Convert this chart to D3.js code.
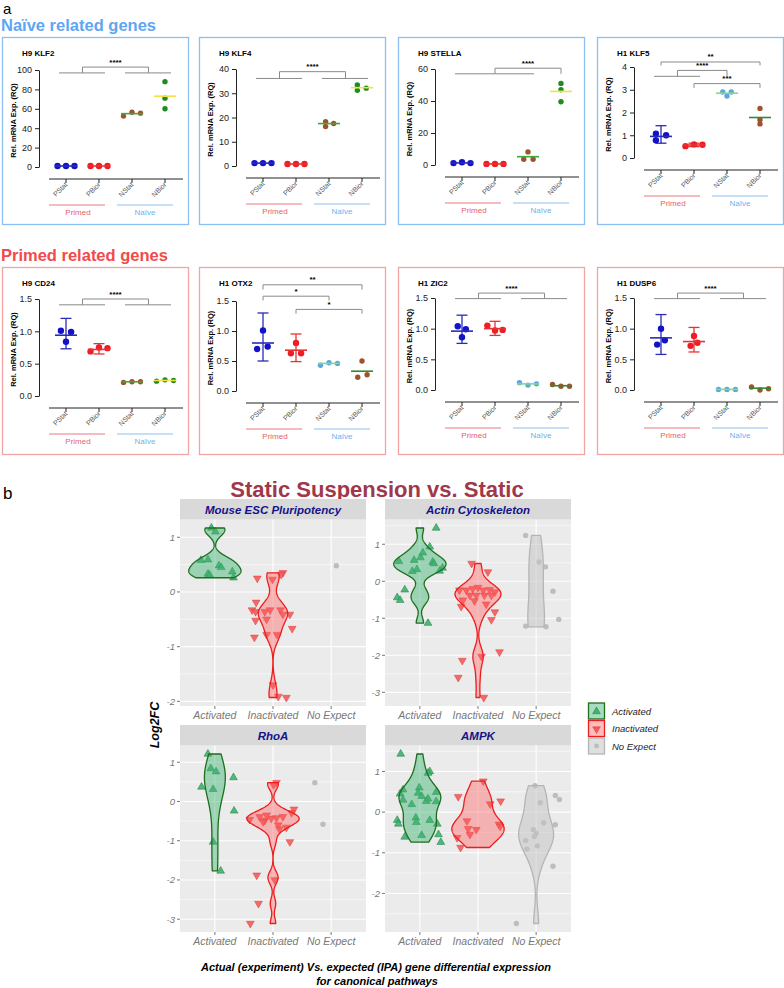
<!DOCTYPE html>
<html><head><meta charset="utf-8">
<script src="https://cdn.jsdelivr.net/npm/d3@7"></script>
<style>body{margin:0;background:#fff}svg{display:block;font-family:Arial,"Liberation Sans",sans-serif}</style>
</head><body><svg id="c" width="784" height="988"></svg>
<script>
// ================= Panel a data =================
const groups = ["PStat","PBior","NStat","NBior"];
const genes = ["H9 KLF2","H9 KLF4","H9 STELLA","H1 KLF5","H9 CD24","H1 OTX2","H1 ZIC2","H1 DUSP6"];
const yMax = [100,40,60,4,1.5,1.5,1.5,1.5];
const yStep = [20,10,20,1,0.5,0.5,0.5,0.5];
const tickFmt = ["d","d","d","d",".1f",".1f",".1f",".1f"];
// replicate values (RQ) per gene, per group
const reps = [
  [[1,1,1],[1,1,1],[52.5,56.5,55.5],[88,71,60]],
  [[1.2,1.2,1.2],[0.8,0.8,0.8],[18.3,16.3,17.5],[33.4,31.2,32.1]],
  [[1.2,1.7,1.2],[0.7,0.7,0.7],[8.2,3.6,3.6],[51,47,39.5]],
  [[1.07,0.78,1.0],[0.52,0.6,0.58],[2.9,2.9,2.72],[2.18,1.68,1.5]],
  [[1.01,0.99,0.84],[0.69,0.75,0.74],[0.21,0.22,0.22],[0.23,0.25,0.24]],
  [[1.01,0.7,0.74],[0.8,0.63,0.63],[0.43,0.47,0.46],[0.5,0.23,0.27]],
  [[1.04,0.99,0.86],[1.05,0.97,0.98],[0.12,0.08,0.1],[0.09,0.06,0.06]],
  [[1.0,0.74,0.81],[0.88,0.72,0.77],[0.01,0.01,0.01],[0.05,0.0,0.02]]
];
// horizontal scatter of replicate dots (in dot widths)
const spread = [
  [[-1,0,1],[-1,0,1],[-1,0,1],[0,0,0]],
  [[-1,0,1],[-1,0,1],[-0.4,-0.4,0.55],[-0.55,-0.55,0.5]],
  [[-1,0,1],[-1,0,1],[0,-0.5,0.6],[0,0,0]],
  [[-0.6,-0.6,0.6],[-1,0,1],[-0.5,0.5,0],[0,0,0]],
  [[-0.6,0.6,0],[-1,0,1],[-1,0,1],[-1,0,1]],
  [[0,-0.7,0.55],[0,-0.6,0.6],[-1,0,1],[0,-0.5,0.6]],
  [[-0.5,0.45,0],[-0.9,0,0.9],[-1,0,1],[-1,0,1]],
  [[0,-0.45,0.45],[0,-0.4,0.4],[-1,0,1],[-1,0,1]]
];
const means = [[1,1,55,73],[1.2,0.8,17.5,32.3],[1.3,0.7,5.2,46],[0.95,0.57,2.85,1.78],
  [0.94,0.72,0.22,0.24],[0.8,0.68,0.46,0.33],[0.96,1.0,0.1,0.07],[0.85,0.79,0.01,0.03]];
// error bars for primed groups [PStat, PBior]
const errLo = [[1,1],[1.2,0.8],[1.3,0.7],[0.65,0.5],[0.73,0.65],[0.5,0.49],[0.76,0.89],[0.58,0.62]];
const errHi = [[1,1],[1.2,0.8],[1.3,0.7],[1.42,0.65],[1.2,0.81],[1.3,0.95],[1.22,1.12],[1.23,1.02]];
// significance brackets: gene, left groups, right groups, arm level, top level, label
const sig = [
  [0,[0,1],[2,3],97,103,"****"],
  [1,[0,1],[2,3],36.1,38.9,"****"],
  [2,[0,1,2],[3],57,60.5,"****"],
  [3,[0],[3],4.07,4.22,"**"],
  [3,[0,1],[2],3.59,3.85,"****"],
  [3,[1],[3],3.08,3.27,"***"],
  [4,[0,1],[2,3],1.41,1.5,"****"],
  [5,[0],[3],1.69,1.77,"**"],
  [5,[0],[2],1.51,1.58,"*"],
  [5,[1],[3],1.29,1.36,"*"],
  [6,[0,1],[2,3],1.49,1.58,"****"],
  [7,[0,1],[2,3],1.49,1.58,"****"]
];

// ================= Panel b data =================
const pathways = ["Mouse ESC Pluripotency","Actin Cytoskeleton","RhoA","AMPK"];
const expectCats = ["Activated","Inactivated","No Expect"];
const log2fc = [
  [ [1.17,1.10,0.58,0.59,0.48,0.45,0.33,0.31,0.37,0.26],
    [0.25,0.23,0.35,0.32,-0.19,-0.33,-0.36,-0.36,-0.33,-0.33,-0.41,-0.41,-0.52,-0.50,-0.67,-0.83,-0.78,-0.78,-1.70,-1.91,-1.93],
    [0.48] ],
  [ [1.44,0.93,0.77,0.64,0.57,0.54,0.52,0.48,0.32,0.27,0.36,0.28,-0.23,-0.44,-0.51,-1.13],
    [0.48,0.25,-0.24,-0.24,-0.20,-0.17,-0.24,-0.23,-0.29,-0.38,-0.38,-0.38,-0.38,-0.51,-0.53,-0.62,-0.68,-0.83,-1.04,-1.91,-2.03,-2.14,-2.60,-3.14],
    [1.24,0.52,0.39,-0.27,-1.03,-1.21,-1.23] ],
  [ [1.21,0.84,0.76,0.61,0.37,0.31,-0.24,-1.03,-1.77],
    [0.48,0.42,-0.20,-0.29,-0.46,-0.39,-0.48,-0.43,-0.42,-0.39,-0.35,-0.52,-0.60,-0.70,-0.66,-1.03,-1.88,-2.00,-2.60,-3.11],
    [0.48,-0.58] ],
  [ [1.43,1.0,0.96,0.60,0.55,0.45,0.47,0.49,0.39,0.33,0.30,0.27,0.26,0.19,-0.20,-0.29,-0.14,-0.25,-0.20,-0.29,-0.61,-0.57,-0.55,-0.74],
    [0.76,0.38,0.27,0.20,-0.22,-0.30,-0.35,-0.41,-0.43,-0.55,-0.63,-0.87],
    [0.65,0.41,0.31,0.23,-0.26,-0.31,-0.43,-0.52,-0.60,-0.70,-0.83,-0.91,-1.33,-2.74] ]
];
// horizontal jitter of each gene (category units)
const jitter = [
  [ [-0.06,0.01,-0.24,-0.12,0.07,0.11,-0.12,-0.09,0.30,0.32],
    [-0.27,-0.01,0.17,0.14,-0.29,-0.36,-0.30,-0.14,-0.05,0.13,0.17,0.29,-0.30,-0.11,0.33,-0.32,-0.11,0.07,0.0,0.09,0.23],
    [0.09] ],
  [ [0.28,0.17,0.05,0.01,-0.10,-0.36,0.22,0.24,-0.05,-0.13,0.39,0.34,-0.26,-0.39,-0.34,0.14],
    [-0.11,0.17,-0.32,-0.20,-0.09,0.0,0.09,0.20,0.29,-0.14,-0.03,0.11,0.23,-0.26,-0.06,0.14,-0.29,0.29,0.23,0.37,0.06,-0.27,-0.34,0.10],
    [-0.18,0.05,0.16,0.29,0.39,-0.18,0.17] ],
  [ [-0.12,-0.07,0.02,0.32,-0.23,-0.03,0.33,-0.03,0.10],
    [0.06,0.01,0.36,0.32,-0.40,-0.23,-0.14,-0.03,0.06,0.17,-0.11,-0.17,0.09,0.11,0.23,0.29,-0.28,0.03,-0.25,-0.39],
    [-0.28,-0.14] ],
  [ [-0.33,0.17,0.14,-0.01,-0.29,-0.34,-0.03,0.28,0.03,0.14,-0.29,0.11,0.28,-0.14,-0.39,-0.37,-0.07,-0.06,0.17,0.30,-0.26,0.03,0.32,0.36],
    [0.09,-0.34,0.39,0.21,-0.19,0.36,0.38,-0.17,-0.03,-0.14,-0.36,-0.30],
    [-0.02,0.33,0.40,0.07,0.13,0.33,-0.05,0.0,-0.03,-0.18,0.02,-0.16,0.29,-0.34] ]
];

// ================= drawing =================
const svg = d3.select("#c");
const txt = (p, x, y, s, o) => { const t = p.append("text").attr("x", x).attr("y", y).text(s); Object.entries(o||{}).forEach(([k,v])=>t.attr(k,v)); return t; };

txt(svg, 3, 14, "a", {"font-size":15});
txt(svg, 1, 31, "Naïve related genes", {"font-size":16.5,"font-weight":"bold",fill:"#5ea6f2"});
txt(svg, 1, 261, "Primed related genes", {"font-size":16.5,"font-weight":"bold",fill:"#f24a4a"});

const boxX=[2,199,398,597], boxY=[37,267], BW=186, BH=187;
const plotTop=[33,32,32,30,32,34,31,31], plotBot=[130,129,128,121,129,124,123,123];
const dotCol = {H9:["#1212c8","#ee1c24","#a0522d","#1e8c1e"], H1:["#1212c8","#ee1c24","#5aa5e2","#a0522d"]};
const meanCol = {H9:["#2a2ab8","#e83232","#3aaa3a","#f0e04a"], H1:["#2a2ab8","#e83232","#86d886","#2e8b2e"]};

genes.forEach((gname, gi) => {
  const bx = boxX[gi%4], by = boxY[Math.floor(gi/4)], naive = gi < 4;
  const line = gname.slice(0,2);
  const g = svg.append("g");
  g.append("rect").attr("x",bx+0.5).attr("y",by+0.5).attr("width",BW).attr("height",BH)
    .attr("fill","none").attr("stroke", naive ? "#8cbff2" : "#f4a3a3").attr("stroke-width",1.3);
  txt(g, bx+20, by+19, gname, {"font-size":8,"font-weight":"bold"});
  const y = d3.scaleLinear().domain([0, yMax[gi]]).range([by+plotBot[gi], by+plotTop[gi]]);
  const x = d3.scalePoint().domain(groups).range([bx+64, bx+163]);
  const axX = bx+37, axY = by+plotBot[gi]+12;
  const ya = g.append("g").attr("transform",`translate(${axX},0)`)
    .call(d3.axisLeft(y).tickValues(d3.range(0, yMax[gi]+yStep[gi]/2, yStep[gi])).tickSize(4).tickSizeOuter(0).tickPadding(3).tickFormat(d3.format(tickFmt[gi])));
  ya.selectAll("path,line").attr("stroke","#222");
  ya.selectAll("text").attr("font-size",9).attr("fill","#222").attr("font-family","inherit");
  txt(g, 0, 0, "Rel. mRNA Exp. (RQ)", {"font-size":7.5,"font-weight":"bold","text-anchor":"middle",
    transform:`translate(${bx+14},${(y.range()[0]+y.range()[1])/2+2}) rotate(-90)`});
  // x axis
  g.append("line").attr("x1",bx+47).attr("x2",bx+181).attr("y1",axY).attr("y2",axY).attr("stroke","#222");
  groups.forEach(c => {
    g.append("line").attr("x1",x(c)).attr("x2",x(c)).attr("y1",axY).attr("y2",axY+4).attr("stroke","#222");
    txt(g, 0, 0, c, {"font-size":7,fill:"#555","text-anchor":"end",transform:`translate(${x(c)+2},${axY+6}) rotate(-45)`});
  });
  g.append("line").attr("x1",bx+47).attr("x2",bx+103).attr("y1",axY+26).attr("y2",axY+26).attr("stroke","#ea7a80").attr("stroke-width",1.2);
  g.append("line").attr("x1",bx+115).attr("x2",bx+171).attr("y1",axY+26).attr("y2",axY+26).attr("stroke","#8cc0f0").attr("stroke-width",1.2);
  txt(g, bx+76, axY+36, "Primed", {"font-size":8,"text-anchor":"middle",fill:"#e8606c"});
  txt(g, bx+143, axY+36, "Naïve", {"font-size":8,"text-anchor":"middle",fill:"#72b0ea"});
  // error bars
  [0,1].forEach(k => {
    const cx = x(groups[k]);
    if (errHi[gi][k] - errLo[gi][k] > 0.001) {
      g.append("line").attr("x1",cx).attr("x2",cx).attr("y1",y(errLo[gi][k])).attr("y2",y(errHi[gi][k])).attr("stroke",meanCol[line][k]).attr("stroke-width",1.3);
      [errLo[gi][k], errHi[gi][k]].forEach(v => g.append("line").attr("x1",cx-5.5).attr("x2",cx+5.5).attr("y1",y(v)).attr("y2",y(v)).attr("stroke",meanCol[line][k]).attr("stroke-width",1.3));
    }
  });
  // dots
  groups.forEach((c, k) => {
    reps[gi][k].forEach((v, j) => {
      g.append("circle").attr("cx", x(c)+spread[gi][k][j]*8.5).attr("cy", y(v)).attr("r", k<2 ? 3.2 : 2.7).attr("fill", dotCol[line][k]);
    });
  });
  // mean lines
  groups.forEach((c, k) => {
    g.append("line").attr("x1",x(c)-11).attr("x2",x(c)+11).attr("y1",y(means[gi][k])).attr("y2",y(means[gi][k]))
      .attr("stroke",meanCol[line][k]).attr("stroke-width",1.6);
  });
});

// significance brackets
sig.forEach(([gi, L, R, lo, hi, lab]) => {
  const bx = boxX[gi%4], by = boxY[Math.floor(gi/4)];
  const y = d3.scaleLinear().domain([0, yMax[gi]]).range([by+plotBot[gi], by+plotTop[gi]]);
  const x = d3.scalePoint().domain(groups).range([bx+64, bx+163]);
  const g = svg.append("g").attr("stroke","#8a8a8a").attr("stroke-width",1);
  const centre = gs => {
    const xs = gs.map(k => x(groups[k]));
    if (gs.length > 1) {
      g.append("line").attr("x1",d3.min(xs)-7).attr("x2",d3.max(xs)+6).attr("y1",y(lo)).attr("y2",y(lo));
    }
    return d3.mean(xs);
  };
  const xl = centre(L), xr = centre(R);
  g.append("path").attr("fill","none").attr("d",`M${xl},${y(lo)}V${y(hi)}H${xr}V${y(lo)}`);
  txt(svg, (xl+xr)/2, y(hi)-2.5, lab, {"font-size":8,"font-weight":"bold","text-anchor":"middle"});
});

// ================= Panel b =================
txt(svg, 3, 499, "b", {"font-size":17});
txt(svg, 377, 497, "Static Suspension vs. Static", {"font-size":22,"font-weight":"bold","text-anchor":"middle",fill:"#a0374a"});

const facetPos = [[180,499],[385,499],[180,725],[385,725]];
const FW = 186, STRIP = 20.5, PH = 186.5;
const catStyle = [
  {fill:"#3cb371", stroke:"#1f7a3a", vfill:"#3cb371", vop:0.45, vstroke:"#1d6e1d", sym:"up"},
  {fill:"#f25c5c", stroke:"#e23a3a", vfill:"#ff5a5a", vop:0.40, vstroke:"#ee1c1c", sym:"down"},
  {fill:"#bdbdbd", stroke:"none", vfill:"#c4c4c4", vop:0.55, vstroke:"#b5b5b5", sym:"circle"}
];

function kde(vals) {
  const s = vals.slice().sort(d3.ascending), n = s.length;
  const sd = d3.deviation(s), iqr = d3.quantile(s,0.75) - d3.quantile(s,0.25);
  let m = Math.min(sd, iqr/1.34); if (!(m > 0)) m = sd;
  const bw = 0.9 * m * Math.pow(n, -0.2);
  const lo = s[0], hi = s[n-1];
  return d3.range(256).map(i => {
    const yv = lo + (hi-lo)*i/255;
    return [yv, d3.sum(s, v => Math.exp(-0.5*((yv-v)/bw)**2)) / (n*bw*Math.sqrt(2*Math.PI))];
  });
}

pathways.forEach((pw, fi) => {
  const [fx, fy] = facetPos[fi];
  const py0 = fy + STRIP, py1 = py0 + PH;
  const all = log2fc[fi].flat();
  const lo = d3.min(all), hi = d3.max(all), pad = (hi-lo)*0.05;
  const y = d3.scaleLinear().domain([lo-pad, hi+pad]).range([py1, py0]);
  const x = d3.scalePoint().domain(expectCats).range([fx, fx+FW]).padding(0.6);
  const step = x.step();
  const g = svg.append("g");
  g.append("rect").attr("x",fx).attr("y",py0).attr("width",FW).attr("height",PH).attr("fill","#ebebeb");
  g.append("rect").attr("x",fx).attr("y",fy).attr("width",FW).attr("height",STRIP).attr("fill","#d9d9d9");
  txt(g, fx+FW/2, fy+14.5, pw, {"font-size":11.5,"font-weight":"bold","font-style":"italic","text-anchor":"middle",fill:"#13138a"});
  const majors = d3.range(Math.ceil(lo-pad), Math.floor(hi+pad)+1);
  const minors = d3.range(Math.ceil(lo-pad-0.5), Math.floor(hi+pad)+1).map(v => v+0.5).filter(v => v > lo-pad && v < hi+pad);
  minors.forEach(v => g.append("line").attr("x1",fx).attr("x2",fx+FW).attr("y1",y(v)).attr("y2",y(v)).attr("stroke","#fff").attr("stroke-width",0.55));
  majors.forEach(v => {
    g.append("line").attr("x1",fx).attr("x2",fx+FW).attr("y1",y(v)).attr("y2",y(v)).attr("stroke","#fff").attr("stroke-width",1.1);
    g.append("line").attr("x1",fx-3).attr("x2",fx).attr("y1",y(v)).attr("y2",y(v)).attr("stroke","#555").attr("stroke-width",0.8);
    txt(g, fx-5, y(v)+3.3, d3.format("d")(v).replace("−","-"), {"font-size":9.5,"font-style":"italic","text-anchor":"end",fill:"#777"});
  });
  expectCats.forEach(c => {
    g.append("line").attr("x1",x(c)).attr("x2",x(c)).attr("y1",py0).attr("y2",py1).attr("stroke","#fff").attr("stroke-width",1.1);
    g.append("line").attr("x1",x(c)).attr("x2",x(c)).attr("y1",py1).attr("y2",py1+3).attr("stroke","#555").attr("stroke-width",0.8);
    txt(g, x(c), py1+12.5, c, {"font-size":10.5,"font-style":"italic","text-anchor":"middle",fill:"#777"});
  });
  // points (under violins)
  expectCats.forEach((c, ci) => {
    const st = catStyle[ci];
    log2fc[fi][ci].forEach((v, j) => {
      const px = x(c) + jitter[fi][ci][j]*step, pyv = y(v);
      if (st.sym === "circle") {
        g.append("circle").attr("cx",px).attr("cy",pyv).attr("r",2.7).attr("fill",st.fill);
      } else {
        g.append("path").attr("d", d3.symbol(d3.symbolTriangle, 26)())
          .attr("transform", `translate(${px},${pyv})` + (st.sym === "down" ? " rotate(180)" : ""))
          .attr("fill", st.fill).attr("fill-opacity",0.9).attr("stroke", st.stroke).attr("stroke-width",0.5);
      }
    });
  });
  // violins (kernel density of each group, scaled within panel)
  const dens = log2fc[fi].map(v => v.length >= 3 ? kde(v) : null);
  const maxD = d3.max(dens.filter(Boolean), d => d3.max(d, p => p[1]));
  dens.forEach((d, ci) => {
    if (!d) return;
    const st = catStyle[ci], cx = x(expectCats[ci]);
    const hw = p => p[1]/maxD * 0.9 * step / 2;
    const pts = d.map(p => [cx + hw(p), y(p[0])]).concat(d.slice().reverse().map(p => [cx - hw(p), y(p[0])]));
    g.append("path").attr("d", d3.line()(pts) + "Z").attr("fill", st.vfill).attr("fill-opacity", st.vop)
      .attr("stroke", st.vstroke).attr("stroke-width", 1.3).attr("stroke-linejoin","round");
  });
});

txt(svg, 0, 0, "Log2FC", {"font-size":12.5,"font-weight":"bold","font-style":"italic","text-anchor":"middle",transform:"translate(159,725) rotate(-90)"});
txt(svg, 376, 971, "Actual (experiment) Vs. expected (IPA) gene differential expression", {"font-size":11,"font-weight":"bold","font-style":"italic","text-anchor":"middle"});
txt(svg, 377, 985, "for canonical pathways", {"font-size":11,"font-weight":"bold","font-style":"italic","text-anchor":"middle"});

// legend
const legY = [703, 720.5, 738];
expectCats.forEach((c, ci) => {
  const st = catStyle[ci], ky = legY[ci];
  svg.append("rect").attr("x",588.5).attr("y",ky).attr("width",16).attr("height",16).attr("fill","#fff");
  svg.append("rect").attr("x",588.5).attr("y",ky).attr("width",16).attr("height",16).attr("fill",st.vfill).attr("fill-opacity",st.vop)
    .attr("stroke",st.vstroke).attr("stroke-width",1.3);
  if (st.sym === "circle") svg.append("circle").attr("cx",596.5).attr("cy",ky+8).attr("r",2.4).attr("fill",st.fill);
  else svg.append("path").attr("d", d3.symbol(d3.symbolTriangle, 26)()).attr("transform",`translate(596.5,${ky+8.5})`+(st.sym==="down"?" rotate(180)":""))
    .attr("fill",st.fill).attr("stroke",st.stroke).attr("stroke-width",0.5);
  txt(svg, 612, ky+11.5, c, {"font-size":9.5,"font-style":"italic",fill:"#222"});
});
</script></body></html>
